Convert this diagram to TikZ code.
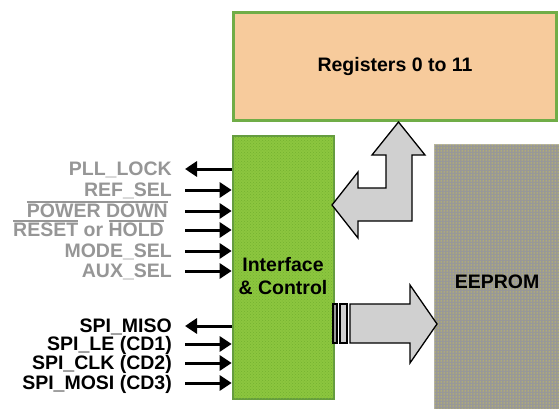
\documentclass[tikz,border=0pt]{standalone}
\usepackage{fontspec}
\setmainfont{Liberation Sans}
\usetikzlibrary{arrows.meta,patterns}
\definecolor{regfill}{RGB}{247,203,156}
\definecolor{boxgreen}{RGB}{112,173,71}
\definecolor{ifgreen}{RGB}{140,198,63}
\definecolor{ifdot}{RGB}{116,178,48}
\definecolor{eegray}{RGB}{152,152,152}
\definecolor{eedot}{RGB}{250,232,20}
\definecolor{lblgray}{RGB}{150,150,150}
\definecolor{busfill}{RGB}{208,208,208}
\newcommand{\barred}[1]{\leavevmode\vbox{\hrule height 1.3pt\kern1.6pt\hbox{#1}}}

\begin{document}
\begin{tikzpicture}[x=1pt, y=-1pt, font=\fontsize{19.5}{23}\selectfont\bfseries,
  lbl/.style={anchor=east, inner sep=0pt, text height=13.6pt, text depth=0pt, text=lblgray},
  spi/.style={lbl, text=black},
  sigin/.style={line width=3pt, -{Triangle[length=12pt,width=15pt]}, shorten <=13pt},
  sigout/.style={line width=3pt, {Triangle[length=12pt,width=15pt]}-, shorten <=13pt},
  bus/.style={draw=black, line width=1.3pt, fill=busfill, line join=miter}]
\useasboundingbox (0,0) rectangle (559,409);

% blocks
\node [draw=boxgreen, line width=2.6pt, fill=regfill, minimum width=323pt, minimum height=108pt] (regs) at (395,66.5) {Registers 0 to 11};
\node [draw=boxgreen!90!black, line width=2.6pt, fill=ifgreen, postaction={pattern=crosshatch dots, pattern color=ifdot}, minimum width=101pt, minimum height=263pt] (iface) at (283.5,267.5) {};
\node [align=center, inner sep=0pt] (iftext) at (283,276) {Interface\\\& Control};
\node [draw=eegray!80, line width=1pt, fill=eegray, postaction={pattern=dots, pattern color=eedot}, anchor=north west, minimum width=140pt, minimum height=280pt] (eeprom) at (433.5,143.5) {};
\node (eetext) at (497,282) {EEPROM};

% buses
\draw[bus] (398.5,122) -- (425,155) -- (412,155) -- (412,221) -- (358,221) -- (358,238) -- (332,205) -- (358,172) -- (358,188) -- (386,188) -- (386,155) -- (372,155) -- cycle;
\draw[bus, fill=eegray] (333,304) rectangle (337,343);
\draw[bus] (340,304) rectangle (347,343);
\draw[bus] (350,304) -- (410,304) -- (410,285) -- (437,324) -- (410,363) -- (410,343) -- (350,343) -- cycle;

% control pins
\node [lbl] (lpll) at (172,169) {PLL\_LOCK};
\node [lbl] (lref) at (172,190) {REF\_SEL};
\node [lbl] (lpwd) at (168,211) {\barred{POWER DOWN}};
\node [lbl] (lrst) at (164,230) {\barred{RESET} or \barred{HOLD}};
\node [lbl] (lmode) at (172,251) {MODE\_SEL};
\node [lbl] (laux) at (172,271) {AUX\_SEL};

\draw[sigout] (lpll.east) -- (lpll.east -| iface.west);
\draw[sigin] (lref.east) -- (lref.east -| iface.west);
\draw[sigin, shorten <=17pt] (lpwd.east) -- (lpwd.east -| iface.west);
\draw[sigin, shorten <=21pt] (lrst.east) -- (lrst.east -| iface.west);
\draw[sigin] (lmode.east) -- (lmode.east -| iface.west);
\draw[sigin] (laux.east) -- (laux.east -| iface.west);

% serial port
\node [spi] (smiso) at (172,326) {SPI\_MISO};
\node [spi] (sle) at (172,344) {SPI\_LE (CD1)};
\node [spi] (sclk) at (172,363) {SPI\_CLK (CD2)};
\node [spi] (smosi) at (172,383) {SPI\_MOSI (CD3)};

\draw[sigout] (smiso.east) -- (smiso.east -| iface.west);
\draw[sigin] (sle.east) -- (sle.east -| iface.west);
\draw[sigin] (sclk.east) -- (sclk.east -| iface.west);
\draw[sigin] (smosi.east) -- (smosi.east -| iface.west);
\end{tikzpicture}
\end{document}
